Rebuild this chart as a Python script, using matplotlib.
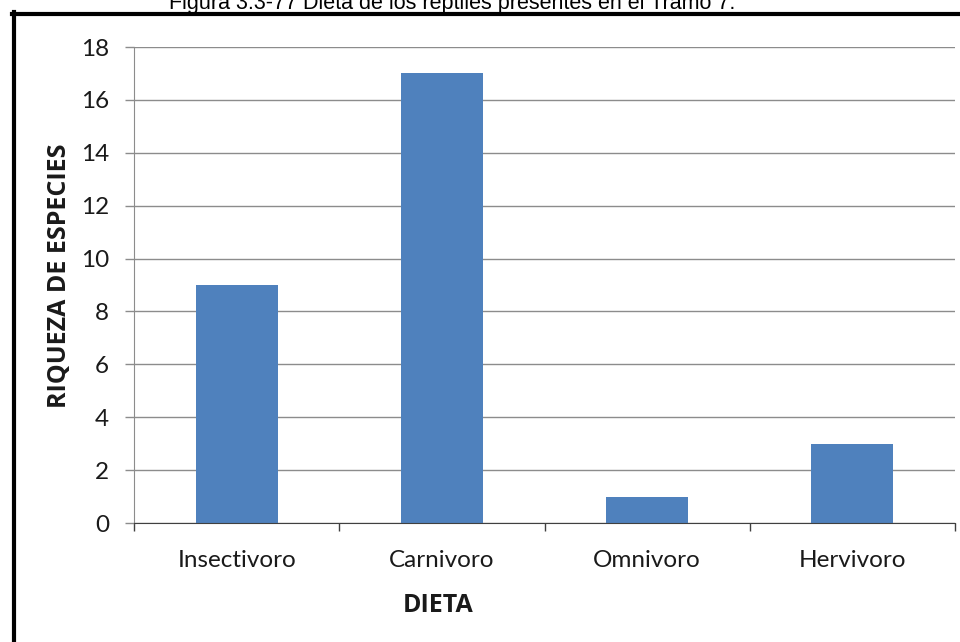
import matplotlib
matplotlib.use("Agg")
import matplotlib.pyplot as plt
from matplotlib.lines import Line2D
import numpy as np

categories = ["Insectivoro", "Carnivoro", "Omnivoro", "Hervivoro"]
riqueza = [9, 17, 1, 3]
y_ticks = [0, 2, 4, 6, 8, 10, 12, 14, 16, 18]

W, H = 960, 642
fig = plt.figure(figsize=(W / 100, H / 100), dpi=100)
fig.patch.set_facecolor("white")

# plot area in pixel coordinates
x0, x1 = 134, 955
ytop, ybot = 47, 523
ax = fig.add_axes([x0 / W, (H - ybot) / H, (x1 - x0) / W, (ybot - ytop) / H])

xpos = np.arange(len(categories))
ax.bar(xpos, riqueza, width=0.4, color="#4F81BD", zorder=3)

ax.set_xlim(-0.5, len(categories) - 0.5)
ax.set_ylim(0, 18)
ax.set_yticks(y_ticks)
ax.yaxis.grid(True, color="#8c8c8c", linewidth=1.0, zorder=0)

tick_font = dict(family="Lato", size=17.5, color="#1a1a1a")
ax.set_yticklabels([str(v) for v in y_ticks], fontdict=tick_font)

# category labels between boundary ticks
ax.set_xticks(np.arange(-0.5, len(categories), 1.0))
ax.set_xticklabels([])
ax.set_xticks(xpos, minor=True)
ax.set_xticklabels(categories, minor=True, fontdict=tick_font)
ax.tick_params(axis="x", which="minor", length=0, pad=19.5)
ax.tick_params(axis="x", which="major", length=6, width=1.0, color="#404040")
ax.tick_params(axis="y", length=6.5, width=1.0, color="#8c8c8c", pad=11.5)

for s in ["top", "right"]:
    ax.spines[s].set_visible(False)
ax.spines["left"].set_color("#8c8c8c")
ax.spines["bottom"].set_color("#404040")
ax.spines["bottom"].set_zorder(4)

label_font = dict(family="Open Sans", fontsize=18, fontweight="bold", color="#1a1a1a")
fig.text(60 / W, (H - 276) / H, "RIQUEZA DE ESPECIES", rotation=90,
         ha="center", va="center", **label_font)
fig.text(438 / W, (H - 605) / H, "DIETA", ha="center", va="center", **label_font)

# outer frame of the figure box (left and top edges)
lw = 3.0
fig.add_artist(Line2D([14 / W, 14 / W], [0, (H - 12) / H],
                      transform=fig.transFigure, color="black", linewidth=lw))
fig.add_artist(Line2D([12 / W, 1.0], [(H - 14) / H, (H - 14) / H],
                      transform=fig.transFigure, color="black", linewidth=lw))

# caption above the frame
fig.text(452 / W, (H - 9) / H, "Figura 3.3-77 Dieta de los reptiles presentes en el Tramo 7.",
         family="Liberation Sans", fontsize=15.5, ha="center", va="baseline", color="black")

fig.savefig("out.png", dpi=100, facecolor="white")
